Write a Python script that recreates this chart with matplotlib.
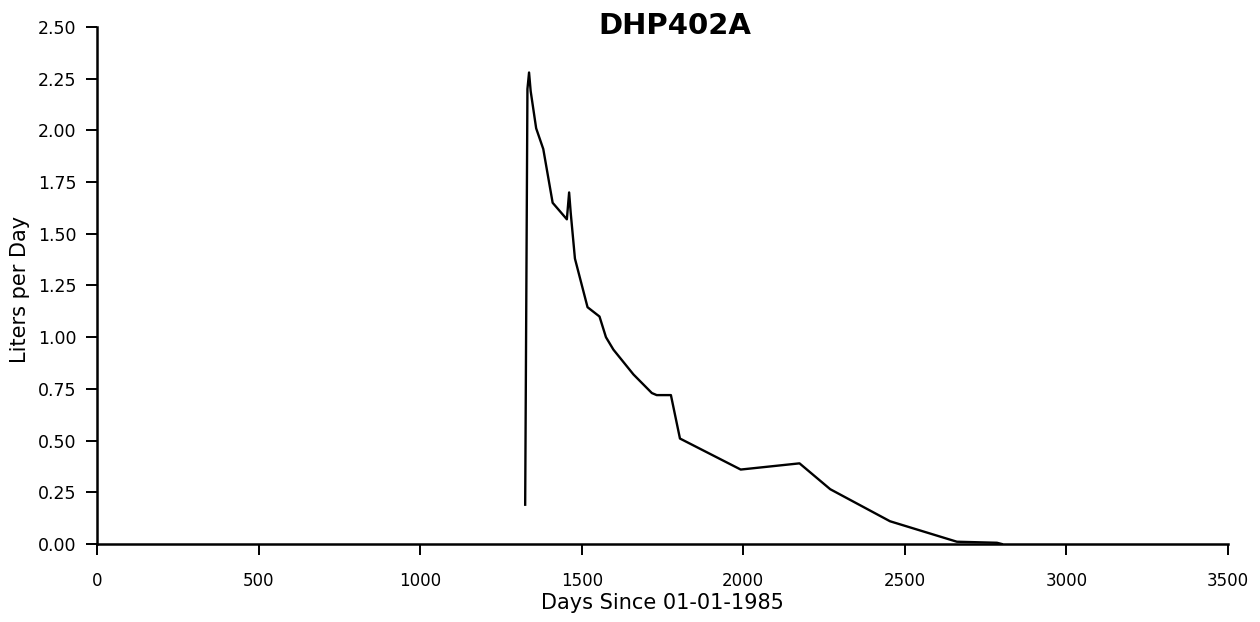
import matplotlib
matplotlib.use("Agg")
import matplotlib.pyplot as plt

# values
days = [1325, 1332, 1337, 1342, 1359, 1381, 1410, 1454, 1461, 1466, 1479,
        1518, 1555, 1575, 1598, 1660, 1717, 1732, 1776, 1804, 1992, 2174,
        2269, 2454, 2661, 2785, 2800]
liters = [0.19, 2.20, 2.28, 2.19, 2.01, 1.91, 1.65, 1.57, 1.70, 1.60, 1.38,
          1.145, 1.10, 1.00, 0.94, 0.82, 0.73, 0.72, 0.72, 0.51, 0.36, 0.39,
          0.265, 0.11, 0.011, 0.006, 0.0]

xticks = [0, 500, 1000, 1500, 2000, 2500, 3000, 3500]
yticks = [0.0, 0.25, 0.5, 0.75, 1.0, 1.25, 1.5, 1.75, 2.0, 2.25, 2.5]

plt.rcParams['font.family'] = ['DejaVu Sans']

fig = plt.figure(figsize=(12.6, 6.22), dpi=100)
ax = fig.add_axes([0.077, 0.1254, 0.8976, 0.8312])

ax.plot(days, liters, color="black", linewidth=1.7)

ax.set_xlim(0, 3500)
ax.set_ylim(0, 2.5)
ax.set_xticks(xticks)
ax.set_yticks(yticks)
ax.set_yticklabels(["%.2f" % v for v in yticks])
ax.tick_params(axis="x", direction="out", length=8, width=1.4, labelsize=12, pad=12)
ax.tick_params(axis="y", direction="out", length=8, width=1.4, labelsize=12.5, pad=7)
for s in ["top", "right"]:
    ax.spines[s].set_visible(False)
for s in ["left", "bottom"]:
    ax.spines[s].set_linewidth(1.8)

fig.text(662 / 1260, 1 - 603 / 622, "Days Since 01-01-1985", fontsize=15, ha="center", va="center")
fig.text(20 / 1260, 1 - 289 / 622, "Liters per Day", fontsize=15, rotation=90, ha="center", va="center")
fig.text(675 / 1260, 1 - 26 / 622, "DHP402A", fontsize=21, fontweight="bold", ha="center", va="center")

fig.savefig("out.png", dpi=100)
